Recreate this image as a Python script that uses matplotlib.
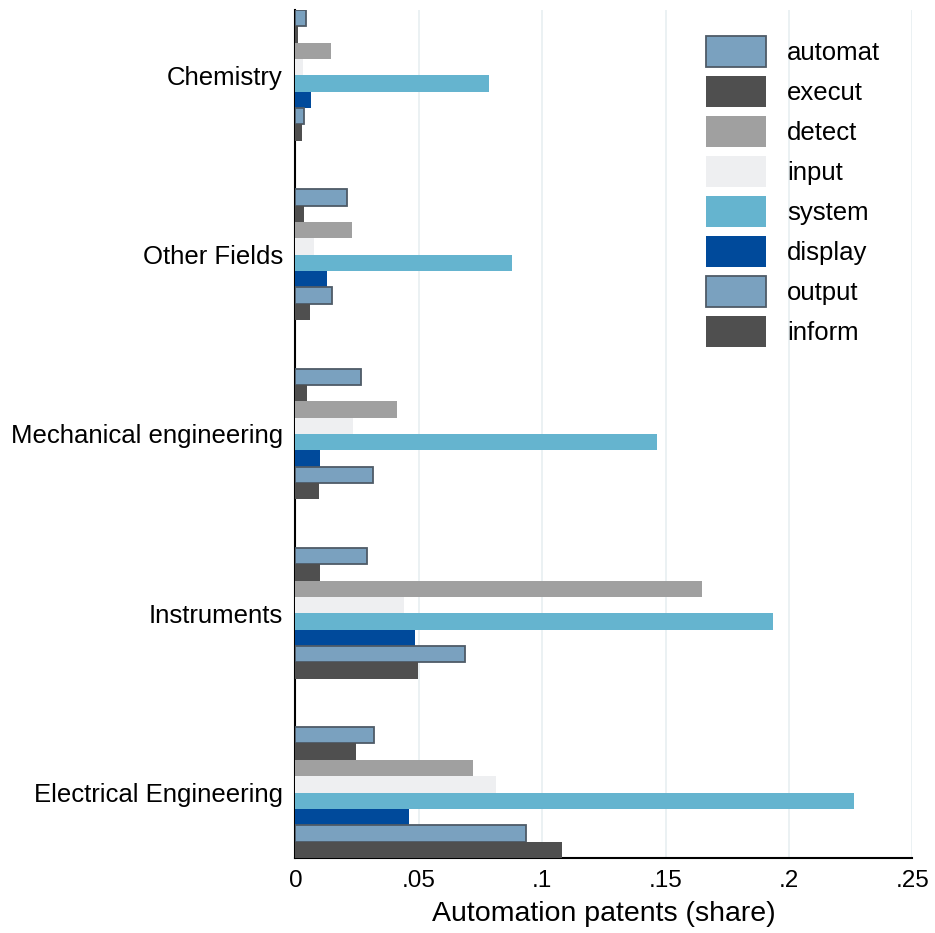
import matplotlib
matplotlib.use("Agg")
import matplotlib.pyplot as plt
import numpy as np

plt.rcParams['font.family'] = ['Liberation Sans', 'DejaVu Sans']

fields = ["Chemistry", "Other Fields", "Mechanical engineering",
          "Instruments", "Electrical Engineering"]
terms = ["automat", "execut", "detect", "input", "system", "display", "output", "inform"]

# share of automation patents per field, one list per term
automat = [0.0041, 0.0207, 0.0267, 0.0291, 0.0320]
execut = [0.0011, 0.0034, 0.0045, 0.0098, 0.0244]
detect = [0.0144, 0.0228, 0.0411, 0.1649, 0.0718]
input_ = [0.0032, 0.0074, 0.0232, 0.0438, 0.0814]
system = [0.0783, 0.0879, 0.1466, 0.1936, 0.2264]
display = [0.0063, 0.0126, 0.0098, 0.0483, 0.0462]
output = [0.0034, 0.0149, 0.0315, 0.0689, 0.0934]
inform = [0.0026, 0.0057, 0.0094, 0.0495, 0.1082]

series = [automat, execut, detect, input_, system, display, output, inform]
colors = ["#7aa1bf", "#4f4f4f", "#a0a0a0", "#eeeff1",
          "#65b4cf", "#004a9b", "#7aa1bf", "#4f4f4f"]
edged = {"automat", "output"}

fig = plt.figure(figsize=(9.35, 9.33), dpi=100)
ax = fig.add_axes([0.316, 0.0804, 0.6597, 0.9089])

group_w = 0.73
bh = group_w / len(terms)
y = np.arange(len(fields))
for i, (name, vals, c) in enumerate(zip(terms, series, colors)):
    off = -group_w / 2 + (i + 0.5) * bh
    if name in edged:
        ax.barh(y + off, vals, height=bh, color=c, edgecolor="#4e5b67",
                linewidth=1.3, label=name, zorder=3)
    else:
        ax.barh(y + off, vals, height=bh, color=c, edgecolor="none",
                label=name, zorder=3)

ax.set_ylim(len(fields) - 1 + group_w / 2, -group_w / 2)
ax.set_xlim(0, 0.25)
ax.set_yticks(y)
ax.set_yticklabels(fields, fontsize=18.5)
xt = [0, 0.05, 0.1, 0.15, 0.2, 0.25]
ax.set_xticks(xt)
ax.set_xticklabels(["0", ".05", ".1", ".15", ".2", ".25"], fontsize=17.5)
ax.tick_params(axis="both", length=0, pad=9)
ax.grid(axis="x", color="#e9f0f2", linewidth=1.3, zorder=0)
ax.set_axisbelow(True)
for s in ["top", "right"]:
    ax.spines[s].set_visible(False)
ax.spines["left"].set_linewidth(1.5)
ax.spines["bottom"].set_linewidth(1.5)
ax.set_xlabel("Automation patents (share)", fontsize=20.5, labelpad=6)

fig.legend(loc="upper left", bbox_to_anchor=(0.755, 0.961), frameon=False,
           fontsize=18.5, handlelength=2.33, handleheight=1.48, labelspacing=0.35,
           handletextpad=0.82, borderpad=0, borderaxespad=0)

fig.savefig("out.png", dpi=100)
